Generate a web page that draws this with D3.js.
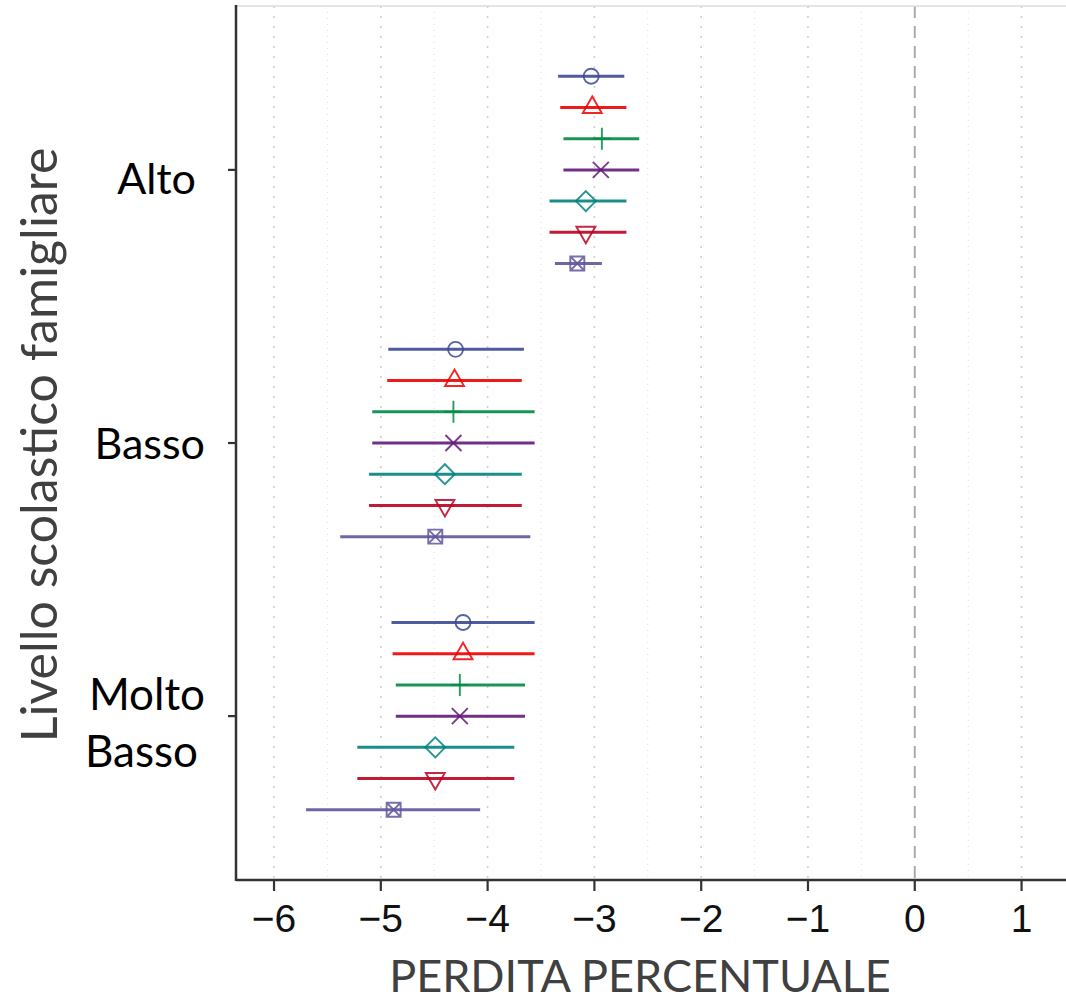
<!DOCTYPE html>
<html>
<head>
<meta charset="utf-8">
<script src="https://cdn.jsdelivr.net/npm/d3@7"></script>
<style>
  html, body { margin: 0; padding: 0; background: #fff; }
  svg { display: block; }
</style>
</head>
<body>
<svg id="chart" width="1066" height="1002"></svg>
<script>
// gruppi (dall'alto al basso) e serie (7 stime per gruppo)
const groups = ["Alto", "Basso", "Molto Basso"];
const seriesNames = ["M1", "M2", "M3", "M4", "M5", "M6", "M7"];
const seriesColors = ["#3B4992", "#EE0000", "#008B45", "#631879", "#008280", "#BB0021", "#5F559B"];
const seriesShapes = ["circle", "triangle", "plus", "cross", "diamond", "triangleDown", "squareX"];

// stime e intervalli, uno per serie
const altoEst = [-3.03, -3.02, -2.93, -2.94, -3.08, -3.08, -3.16];
const altoLo  = [-3.34, -3.32, -3.29, -3.29, -3.42, -3.42, -3.37];
const altoHi  = [-2.72, -2.70, -2.58, -2.58, -2.70, -2.70, -2.93];

const bassoEst = [-4.30, -4.31, -4.32, -4.32, -4.40, -4.40, -4.49];
const bassoLo  = [-4.93, -4.94, -5.08, -5.08, -5.11, -5.11, -5.38];
const bassoHi  = [-3.66, -3.68, -3.56, -3.56, -3.68, -3.68, -3.60];

const moltoEst = [-4.23, -4.23, -4.26, -4.26, -4.49, -4.49, -4.88];
const moltoLo  = [-4.90, -4.89, -4.86, -4.86, -5.22, -5.22, -5.70];
const moltoHi  = [-3.56, -3.56, -3.65, -3.65, -3.75, -3.75, -4.07];

const xTicks = [-6, -5, -4, -3, -2, -1, 0, 1];
const xMinor = [-5.5, -4.5, -3.5, -2.5, -1.5, -0.5, 0.5];

const tables = [
  [altoEst, altoLo, altoHi],
  [bassoEst, bassoLo, bassoHi],
  [moltoEst, moltoLo, moltoHi]
];

var rows = [];
groups.forEach(function(g, gi) {
  seriesNames.forEach(function(s, si) {
    rows.push({
      group: g,
      gpos: groups.length - gi,
      k: si,
      est: tables[gi][0][si],
      lo: tables[gi][1][si],
      hi: tables[gi][2][si]
    });
  });
});

const svg = d3.select("#chart");
const pLeft = 236, pRight = 1066, pTop = 6, pBottom = 880;

const x = d3.scaleLinear().domain([-6.356, 1.416]).range([pLeft, pRight]);
const y = d3.scaleLinear().domain([0.4, 3.6]).range([pBottom, pTop]);
const dodge = 0.8 / seriesNames.length;

function ypos(d) {
  return y(d.gpos + (3 - d.k) * dodge);
}

// griglia
const grid = svg.append("g");
grid.selectAll(".minor")
  .data(xMinor)
  .enter().append("line")
  .attr("x1", d => x(d)).attr("x2", d => x(d))
  .attr("y1", pTop).attr("y2", pBottom)
  .attr("stroke", "#dcdcdc").attr("stroke-width", 1)
  .attr("stroke-dasharray", "1,5");
grid.selectAll(".major")
  .data(xTicks.filter(d => d !== 0))
  .enter().append("line")
  .attr("x1", d => x(d)).attr("x2", d => x(d))
  .attr("y1", pTop).attr("y2", pBottom)
  .attr("stroke", "#cfcfcf").attr("stroke-width", 1.6)
  .attr("stroke-dasharray", "2,8");
// linea dello zero
grid.append("line")
  .attr("x1", x(0)).attr("x2", x(0))
  .attr("y1", pTop).attr("y2", pBottom)
  .attr("stroke", "#ababab").attr("stroke-width", 2)
  .attr("stroke-dasharray", "12,8");
// bordo superiore chiaro
grid.append("line")
  .attr("x1", pLeft).attr("x2", pRight)
  .attr("y1", pTop).attr("y2", pTop)
  .attr("stroke", "#dddddd").attr("stroke-width", 1.5);

// simboli
function shapePath(shape) {
  const p = d3.path();
  if (shape === "circle") {
    p.moveTo(7.5, 0); p.arc(0, 0, 7.5, 0, 2 * Math.PI);
  } else if (shape === "triangle") {
    p.moveTo(0, -11); p.lineTo(9.5, 5.5); p.lineTo(-9.5, 5.5); p.closePath();
  } else if (shape === "triangleDown") {
    p.moveTo(0, 11); p.lineTo(9.5, -5.5); p.lineTo(-9.5, -5.5); p.closePath();
  } else if (shape === "plus") {
    p.moveTo(0, -11); p.lineTo(0, 11); p.moveTo(-9, 0); p.lineTo(9, 0);
  } else if (shape === "cross") {
    p.moveTo(-8, -8); p.lineTo(8, 8); p.moveTo(-8, 8); p.lineTo(8, -8);
  } else if (shape === "diamond") {
    p.moveTo(0, -10); p.lineTo(10, 0); p.lineTo(0, 10); p.lineTo(-10, 0); p.closePath();
  } else if (shape === "squareX") {
    p.rect(-7, -7, 14, 14);
    p.moveTo(-7, -7); p.lineTo(7, 7); p.moveTo(-7, 7); p.lineTo(7, -7);
  }
  return p.toString();
}

const marks = svg.append("g");
marks.selectAll(".ci")
  .data(rows)
  .enter().append("line")
  .attr("x1", d => x(d.lo)).attr("x2", d => x(d.hi))
  .attr("y1", ypos).attr("y2", ypos)
  .attr("stroke", d => seriesColors[d.k])
  .attr("stroke-width", 3)
  .attr("stroke-opacity", 0.9);
marks.selectAll(".pt")
  .data(rows)
  .enter().append("path")
  .attr("transform", d => "translate(" + x(d.est) + "," + ypos(d) + ")")
  .attr("d", d => shapePath(seriesShapes[d.k]))
  .attr("fill", "none")
  .attr("stroke", d => seriesColors[d.k])
  .attr("stroke-width", 1.9)
  .attr("stroke-opacity", 0.85);

// assi
svg.append("line")
  .attr("x1", pLeft).attr("x2", pLeft).attr("y1", pTop - 1).attr("y2", pBottom + 1)
  .attr("stroke", "#333").attr("stroke-width", 2.5);
svg.append("line")
  .attr("x1", pLeft).attr("x2", pRight).attr("y1", pBottom).attr("y2", pBottom)
  .attr("stroke", "#333").attr("stroke-width", 2.5);

svg.selectAll(".xtick")
  .data(xTicks)
  .enter().append("line")
  .attr("x1", d => x(d)).attr("x2", d => x(d))
  .attr("y1", pBottom).attr("y2", pBottom + 11)
  .attr("stroke", "#333").attr("stroke-width", 2.2);
svg.selectAll(".xlab")
  .data(xTicks)
  .enter().append("text")
  .attr("x", d => x(d)).attr("y", pBottom + 52)
  .attr("text-anchor", "middle")
  .attr("font-family", "Liberation Sans, Arial, sans-serif")
  .attr("font-size", 39)
  .attr("fill", "#111")
  .text(d => d < 0 ? "\u2212" + Math.abs(d) : d);

svg.selectAll(".ytick")
  .data(groups)
  .enter().append("line")
  .attr("x1", pLeft - 8).attr("x2", pLeft)
  .attr("y1", (d, i) => y(groups.length - i)).attr("y2", (d, i) => y(groups.length - i))
  .attr("stroke", "#333").attr("stroke-width", 2.2);

const catFont = "Lato, 'Open Sans', sans-serif";
svg.append("text")
  .attr("x", 196).attr("y", y(3) + 24)
  .attr("text-anchor", "end")
  .attr("font-family", catFont).attr("font-size", 43).attr("fill", "#000")
  .text(groups[0]);
svg.append("text")
  .attr("x", 205).attr("y", y(2) + 16)
  .attr("text-anchor", "end")
  .attr("font-family", catFont).attr("font-size", 43).attr("fill", "#000")
  .text(groups[1]);
svg.append("text")
  .attr("x", 205).attr("y", y(1) - 6)
  .attr("text-anchor", "end")
  .attr("font-family", catFont).attr("font-size", 44).attr("fill", "#000")
  .text("Molto");
svg.append("text")
  .attr("x", 198).attr("y", y(1) + 51)
  .attr("text-anchor", "end")
  .attr("font-family", catFont).attr("font-size", 44).attr("fill", "#000")
  .text("Basso");

// titoli
svg.append("text")
  .attr("x", 640).attr("y", 992)
  .attr("text-anchor", "middle")
  .attr("font-family", catFont).attr("font-size", 45).attr("fill", "#404040")
  .text("PERDITA PERCENTUALE");
svg.append("text")
  .attr("transform", "translate(57,445) rotate(-90)")
  .attr("text-anchor", "middle")
  .attr("font-family", catFont).attr("font-size", 50).attr("fill", "#404040")
  .text("Livello scolastico famigliare");
</script>
</body>
</html>
